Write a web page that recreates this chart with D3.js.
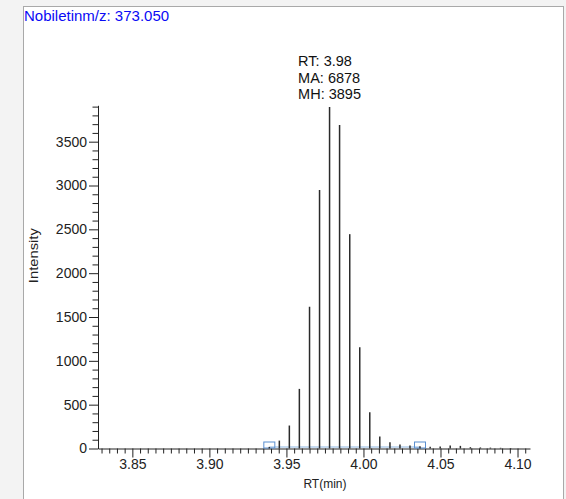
<!DOCTYPE html>
<html>
<head>
<meta charset="utf-8">
<script src="https://cdn.jsdelivr.net/npm/d3@7/dist/d3.min.js"></script>
<style>
  html, body { margin: 0; padding: 0; background: #f3f3f3; }
  svg { display: block; }
  text { font-family: Arial, "Liberation Sans", sans-serif; }
</style>
</head>
<body>
<svg id="chart" width="566" height="499"></svg>
<script>
// Extracted ion chromatogram: Nobiletin, m/z 373.050
const chromTitle = "Nobiletinm/z: 373.050";
const retentionTimes = [3.9389, 3.9454, 3.9519, 3.9584, 3.9650, 3.9715, 3.9780, 3.9845,
  3.9911, 3.9976, 4.0041, 4.0106, 4.0172, 4.0237, 4.0302, 4.0367, 4.0433, 4.0498,
  4.0563, 4.0629, 4.0694, 4.0759, 4.0824, 4.0890, 4.0955];
const intensities = [18, 90, 262, 680, 1617, 2950, 3895, 3690,
  2445, 1154, 414, 137, 72, 45, 34, 25, 20, 22,
  35, 30, 15, 12, 10, 8, 6];
const integrationBounds = [3.9389, 4.0367];
const peakRT = "3.98";
const peakArea = 6878;
const peakHeight = 3895;
const xMajorTicks = [3.85, 3.90, 3.95, 4.00, 4.05, 4.10];
const yMajorTicks = [0, 500, 1000, 1500, 2000, 2500, 3000, 3500];
const xLabel = "RT(min)";
const yLabel = "Intensity";

const svg = d3.select("#chart");

// white panel with grey frame
svg.append("rect")
  .attr("x", 23.5).attr("y", 6.5)
  .attr("width", 540).attr("height", 520)
  .attr("fill", "#ffffff")
  .attr("stroke", "#a9a9a9").attr("stroke-width", 1);

svg.append("text")
  .attr("x", 24).attr("y", 21)
  .attr("fill", "#0a0af5")
  .style("font-size", "15px")
  .text(chromTitle);

const x = d3.scaleLinear().domain([3.8277, 4.1081]).range([98, 530]);
const y = d3.scaleLinear().domain([0, 3915]).range([448.5, 105.3]);

const axisColor = "#222";

// x axis: minor ticks every 0.005, labelled ticks every 0.05
const xMinor = d3.range(0, 56).map(i => +(3.830 + i * 0.005).toFixed(3))
  .filter(v => !xMajorTicks.some(m => Math.abs(m - v) < 1e-6));
const gx = svg.append("g").attr("transform", `translate(0,${y(0)})`);
gx.append("g")
  .call(d3.axisBottom(x).tickValues(xMinor).tickSize(5).tickFormat(""))
  .call(g => g.select(".domain").remove())
  .call(g => g.selectAll("line").attr("stroke", axisColor));
gx.append("g")
  .call(d3.axisBottom(x).tickValues(xMajorTicks).tickSize(9).tickSizeOuter(0)
    .tickFormat(d3.format(".2f")))
  .call(g => g.select(".domain").attr("stroke", axisColor))
  .call(g => g.selectAll("line").attr("stroke", axisColor))
  .call(g => g.selectAll("text").attr("fill", "#222").attr("dy", "0.62em")
    .style("font-size", "14px").style("font-family", "Arial, 'Liberation Sans', sans-serif"));

// y axis: minor ticks every 100, labelled ticks every 500
const yMinor = d3.range(0, 40).map(i => i * 100).filter(v => v % 500 !== 0);
const gy = svg.append("g").attr("transform", `translate(${x.range()[0]},0)`);
gy.append("g")
  .call(d3.axisLeft(y).tickValues(yMinor).tickSize(5.5).tickFormat(""))
  .call(g => g.select(".domain").remove())
  .call(g => g.selectAll("line").attr("stroke", axisColor));
gy.append("g")
  .call(d3.axisLeft(y).tickValues(yMajorTicks).tickSize(9).tickSizeOuter(0)
    .tickFormat(d3.format("d")))
  .call(g => g.select(".domain").attr("stroke", axisColor))
  .call(g => g.selectAll("line").attr("stroke", axisColor))
  .call(g => g.selectAll("text").attr("fill", "#222").attr("x", -11)
    .style("font-size", "14px").style("font-family", "Arial, 'Liberation Sans', sans-serif"));

// axis titles
svg.append("text")
  .attr("x", (x(3.85) + x(4.10)) / 2).attr("y", 488)
  .attr("text-anchor", "middle").attr("fill", "#222")
  .style("font-size", "12px")
  .text(xLabel);
svg.append("text")
  .attr("transform", `translate(38,${y(2200)}) rotate(-90)`)
  .attr("text-anchor", "middle").attr("fill", "#222")
  .attr("textLength", 55).attr("lengthAdjust", "spacingAndGlyphs")
  .style("font-size", "12.5px")
  .text(yLabel);

// integration baseline and its start / end markers
svg.append("line")
  .attr("x1", x(integrationBounds[0])).attr("x2", x(integrationBounds[1]))
  .attr("y1", y(0) - 1.5).attr("y2", y(0) - 1.5)
  .attr("stroke", "#8db6e2").attr("stroke-width", 1);
svg.selectAll("rect.marker").data(integrationBounds).join("rect")
  .attr("class", "marker")
  .attr("x", d => x(d) - 5.5).attr("y", y(0) - 6.5)
  .attr("width", 11).attr("height", 6)
  .attr("fill", "none").attr("stroke", "#5a8fd0").attr("stroke-width", 1);

// centroid sticks
const points = retentionTimes.map((t, i) => ({ t, v: intensities[i] }));
svg.selectAll("line.stick").data(points).join("line")
  .attr("class", "stick")
  .attr("x1", d => x(d.t)).attr("x2", d => x(d.t))
  .attr("y1", y(0)).attr("y2", d => y(d.v))
  .attr("stroke", "#2a2a2a").attr("stroke-width", 1.5);

// apex annotation
const apex = points.reduce((a, b) => (b.v > a.v ? b : a));
const noteLines = [`RT: ${peakRT}`, `MA: ${peakArea}`, `MH: ${peakHeight}`];
const note = svg.append("g");
const noteTexts = note.selectAll("text").data(noteLines).join("text")
  .attr("y", (d, i) => y(apex.v) - 41 + i * 16.5)
  .attr("fill", "#111")
  .style("font-size", "14.5px")
  .text(d => d);
const noteWidth = d3.max(noteTexts.nodes(), n => n.getComputedTextLength());
noteTexts.attr("x", x(apex.t) - noteWidth / 2);
</script>
</body>
</html>
